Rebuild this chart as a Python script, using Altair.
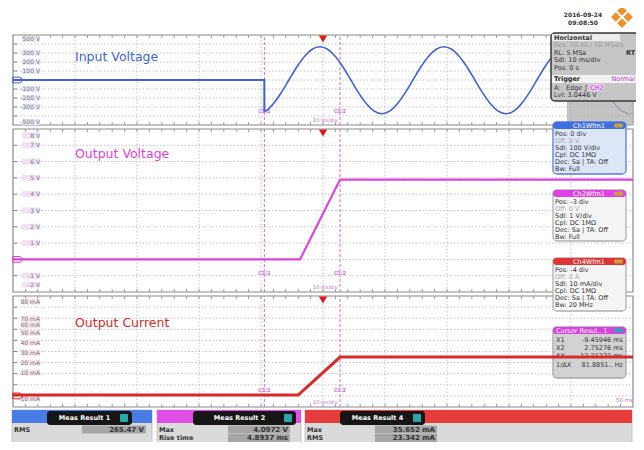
import altair as alt
import pandas as pd

# ---------------- values ----------------
# time axis: ms, trigger at 0 ms, 10 ms/div, screen spans -50 .. 50 ms
in_flat_t = [-50.0, -9.46, -9.46]
in_flat_v = [0, 0, -350]
in_sine_t = [-9.46, -9.25, -8.0, -6.75, -5.5, -4.25, -3.0, -1.75, -0.5, 0.75, 2.0, 3.25,
             4.5, 5.75, 7.0, 8.25, 9.5, 10.75, 12.0, 13.25, 14.5, 15.75, 17.0, 18.25,
             19.5, 20.75, 22.0, 23.25, 24.5, 25.75, 27.0, 28.25, 29.5, 30.75, 32.0,
             33.25, 34.5, 35.75, 37.0, 38.25, 39.5, 40.75, 42.0, 43.25, 44.5, 45.75,
             47.0, 48.25, 49.5, 50.0]
in_sine_v = [-350, -345, -263, -142, 0, 142, 262, 342, 370, 342, 262, 142,
             0, -143, -264, -346, -375, -346, -264, -143, 0, 142, 262, 342,
             370, 342, 262, 142, 0, -143, -264, -346, -375, -346, -264,
             -143, 0, 142, 262, 342, 370, 342, 262, 142, 0, -143,
             -264, -346, -375, -370]
out_v_t = [-50.0, -3.7, 2.75, 50.0]
out_v_v = [0.0, 0.0, 4.9, 4.9]
cur_t = [-50.0, -4.0, 2.75, 50.0]
cur_v = [0.8, 0.8, 35.0, 35.0]

cursor_t = [-9.46, 2.75]
cursor_names = ["C1.1", "C1.2"]

vin_labels = ["500 V", "300 V", "200 V", "100 V", "-100 V", "-200 V", "-300 V", "-500 V"]
vin_label_pos = [455, 300, 200, 100, -100, -200, -300, -465]
vout_labels = ["8 V", "7 V", "6 V", "5 V", "4 V", "3 V", "2 V", "1 V", "-1 V", "-2 V"]
vout_label_pos = [7.6, 7, 6, 5, 4, 3, 2, 1, -1, -1.55]
cur_labels = ["80 mA", "70 mA", "60 mA", "50 mA", "40 mA", "30 mA", "20 mA", "10 mA", "-10 mA"]
cur_label_pos = [85, 69.5, 64, 57, 48, 39, 30, 21, -2.5]

vgrid_t = [-40, -30, -20, -10, 0, 10, 20, 30, 40]
minor_t = [-48 + 2 * i for i in range(49)]
vin_grid = [-400, -300, -200, -100, 0, 100, 200, 300, 400]
vout_grid = [-1, 0, 1, 2, 3, 4, 5, 6, 7]
cur_grid = [0, 10, 20, 30, 40, 50, 60, 70, 80]

# ---------------- layout helpers ----------------
OX = OY = 8          # page margin
W, H = 628, 434
FONT = "DejaVu Sans"
GRID = "#c2c2c2"
BORDER = "#8a8a8a"
BLUE = "#3f62d8"
MAG = "#dc44dc"
RED = "#d82a2a"
CURS = "#cf6fcf"

xs = alt.Scale(domain=[-50, 50], range=[13 - OX, 633 - OX], nice=False, zero=False)


def yscale(lo, hi, top, bot):
    return alt.Scale(domain=[lo, hi], range=[bot - OY, top - OY], nice=False, zero=False)


def XD(v):
    return alt.XDatum(v, type="quantitative", scale=xs, axis=None)


def YD(v, ys):
    return alt.YDatum(v, type="quantitative", scale=ys, axis=None)


def XF(f):
    return alt.X(f, type="quantitative", scale=xs, axis=None)


def YF(f, ys):
    return alt.Y(f, type="quantitative", scale=ys, axis=None)


def R(x0, y0, x1, y1, fill, stroke=None, sw=1, r=0, op=1.0):
    props = dict(fill=fill, cornerRadius=r, opacity=op)
    if stroke is not None:
        props.update(stroke=stroke, strokeWidth=sw)
    return alt.Chart().mark_rect(**props).encode(
        x=alt.value(x0 - OX), x2=alt.value(x1 - OX),
        y=alt.value(y0 - OY), y2=alt.value(y1 - OY))


def T(s, x, y, size=6.5, color="#222222", align="left", weight="normal", font=FONT):
    return alt.Chart().mark_text(text=s, fontSize=size, color=color, align=align,
                                 baseline="middle", fontWeight=weight, font=font).encode(
        x=alt.value(x - OX), y=alt.value(y - OY))


def panel_back(lo, hi, ys, hgrid, labels, label_pos, gcolor, lab_bg, cur_dy):
    L = []
    # panel background + border
    L.append(alt.Chart().mark_rect(fill="white", stroke=BORDER, strokeWidth=1.2).encode(
        x=XD(-50), x2=alt.X2Datum(50), y=YD(lo, ys), y2=alt.Y2Datum(hi)))
    # grid
    L.append(alt.Chart(pd.DataFrame({"v": hgrid})).mark_rule(
        color=GRID, strokeDash=[1.5, 2], strokeWidth=1).encode(
        y=YF("v", ys), x=XD(-50), x2=alt.X2Datum(50)))
    L.append(alt.Chart(pd.DataFrame({"t": vgrid_t})).mark_rule(
        color=GRID, strokeDash=[1.5, 2], strokeWidth=1).encode(
        x=XF("t"), y=YD(lo, ys), y2=alt.Y2Datum(hi)))
    # minor ticks on top/bottom borders and left edge
    mdf = pd.DataFrame({"t": minor_t})
    L.append(alt.Chart(mdf).mark_rule(color="#9a9a9a", strokeWidth=1, y2Offset=3).encode(
        x=XF("t"), y=YD(hi, ys), y2=alt.Y2Datum(hi)))
    L.append(alt.Chart(mdf).mark_rule(color="#9a9a9a", strokeWidth=1, y2Offset=-3).encode(
        x=XF("t"), y=YD(lo, ys), y2=alt.Y2Datum(lo)))
    L.append(alt.Chart(pd.DataFrame({"v": hgrid})).mark_rule(
        color="#8a8a8a", strokeWidth=1, x2Offset=4).encode(
        y=YF("v", ys), x=XD(-50), x2=alt.X2Datum(-50)))
    # level labels with their light tag background
    ldf = pd.DataFrame({"s": labels, "p": label_pos})
    L.append(alt.Chart(ldf).mark_point(
        shape="M-1.5,-0.5H1.5V0.5H-1.5Z", size=150, filled=True, color=lab_bg,
        opacity=1).encode(x=alt.value(31 - OX), y=YF("p", ys)))
    L.append(alt.Chart(ldf).mark_text(
        align="right", baseline="middle", fontSize=6, color="#7a7a7a", font=FONT).encode(
        x=alt.value(40 - OX), y=YF("p", ys), text="s:N"))
    # ground marker
    L.append(alt.Chart().mark_point(
        shape="M-1,-0.55L0.4,-0.55L1,0L0.4,0.55L-1,0.55Z", size=110, filled=False,
        stroke=gcolor, strokeWidth=1, opacity=1).encode(
        x=alt.value(18 - OX), y=YD(0, ys)))
    # cursors
    cdf = pd.DataFrame({"t": cursor_t, "n": cursor_names})
    L.append(alt.Chart(cdf).mark_rule(color=CURS, strokeDash=[3, 2], strokeWidth=1).encode(
        x=XF("t"), y=YD(lo, ys), y2=alt.Y2Datum(hi)))
    L.append(alt.Chart(cdf).mark_point(
        shape="M-1.7,-0.75H1.7V0.75H-1.7Z", size=36, filled=True, color="#efdcf3",
        opacity=1, yOffset=-cur_dy).encode(x=XF("t"), y=YD(lo, ys)))
    L.append(alt.Chart(cdf).mark_text(
        fontSize=5.5, color="#c050c0", font=FONT, baseline="middle", dy=-cur_dy).encode(
        x=XF("t"), y=YD(lo, ys), text="n:N"))
    # time/div label and trigger marker
    L.append(alt.Chart().mark_text(text="10 ms/div", fontSize=5, color="#c070c0", font=FONT,
                                   align="left", baseline="middle", dx=-10, dy=-5).encode(
        x=XD(0), y=YD(lo, ys)))
    L.append(alt.Chart().mark_point(shape="triangle-down", filled=True, color="#e01818",
                                    size=70, opacity=1, yOffset=4).encode(
        x=XD(0), y=YD(hi, ys)))
    return L


# ---------------- panels ----------------
ys1 = yscale(-500, 500, 35, 125)
ys2 = yscale(-2, 8, 129, 292)
ys3 = yscale(-10, 90, 296, 407)

p1 = panel_back(-500, 500, ys1, vin_grid, vin_labels, vin_label_pos, BLUE, "#e6ebf6", 14)
p1.append(alt.Chart(pd.DataFrame({"t": in_flat_t, "v": in_flat_v})).mark_line(
    color=BLUE, strokeWidth=2).encode(x=XF("t"), y=YF("v", ys1), order=alt.Order("i:Q"))
    .transform_window(i="row_number()"))
p1.append(alt.Chart(pd.DataFrame({"t": in_sine_t, "v": in_sine_v})).mark_line(
    color=BLUE, strokeWidth=1.6, interpolate="monotone").encode(x=XF("t"), y=YF("v", ys1)))
panel1 = alt.layer(*p1)

p2 = panel_back(-2, 8, ys2, vout_grid, vout_labels, vout_label_pos, MAG, "#f1e2f3", 19)
p2.append(alt.Chart(pd.DataFrame({"t": out_v_t, "v": out_v_v})).mark_line(
    color=MAG, strokeWidth=2.2).encode(x=XF("t"), y=YF("v", ys2)))
panel2 = alt.layer(*p2)

p3 = panel_back(-10, 90, ys3, cur_grid, cur_labels, cur_label_pos, RED, "#f5e4e4", 17)
p3.append(alt.Chart().mark_text(text="50 ms", fontSize=5.5, color="#c070c0", font=FONT,
                                align="right", baseline="middle", dy=-7).encode(
    x=XD(50), y=YD(-10, ys3)))
panel3 = alt.layer(*p3)

panel3_trace = alt.Chart(pd.DataFrame({"t": cur_t, "v": cur_v})).mark_line(
    color=RED, strokeWidth=3).encode(x=XF("t"), y=YF("v", ys3))

# ---------------- overlays (instrument info boxes) ----------------
ov = []
ov.append(R(567, 100, 633, 125, "#b4b4b4", op=0.8))
# Horizontal / Trigger box
ov.append(R(551, 33, 641, 101, "#c6c6c6", stroke="#3a3a3a", sw=1.5, r=4))
ov.append(R(552, 34, 620, 41, "#ececec"))
ov.append(T("Horizontal", 554, 37.5, 6.5, "#333333", weight="bold"))
ov.append(T("Res: 20 ns / 50 MSa/s", 554, 45, 6.5, "#9a9a9a"))
ov.append(T("RL:  5 MSa", 554, 52.5, 6.5, "#333333"))
ov.append(T("RT", 626, 52.5, 6.5, "#333333", weight="bold"))
ov.append(T("Sdl: 10 ms/div", 554, 60, 6.5, "#333333"))
ov.append(T("Pos: 0 s", 554, 67.5, 6.5, "#333333"))
ov.append(R(552, 75, 640, 83, "#f2f2f2"))
ov.append(T("Trigger", 554, 79, 6.5, "#222222", weight="bold"))
ov.append(T("Normal", 635, 79, 6.5, "#c040c0", align="right"))
ov.append(T("A:", 554, 87.5, 6.5, "#333333"))
ov.append(T("Edge", 566, 87.5, 6.5, "#333333"))
ov.append(T("∫", 584, 87.5, 7, "#333333"))
ov.append(R(589, 84, 604, 91, "#e8d0ee"))
ov.append(T("CH2", 590, 87.5, 6.5, "#c040c0"))
ov.append(T("Lvl: 3.0446 V", 554, 95, 6.5, "#333333"))


def chbox(top, bot, hdr, body, border, title, rows, faded=1, icon="#c8a040"):
    L = [R(553, top, 626, bot, body, stroke=border, sw=1.3, r=4),
         R(553, top, 626, top + 7, hdr, r=3),
         T(title, 589, top + 3.5, 6.5, "white", align="center"),
         R(614, top + 1.5, 623, top + 5.5, icon, r=1.5)]
    for i, s in enumerate(rows):
        L.append(T(s, 555, top + 11.5 + 7 * i, 6.5, "#aaaaaa" if i == faded else "#333333"))
    return L


ov += chbox(122, 174, "#4070e0", "#dde6f7", "#5a7ee0", "Ch1Wfm1",
            ["Pos: 0 div", "Off: 0 V", "Sdl: 100 V/div", "Cpl: DC 1MΩ",
             "Dec: Sa | TA: Off", "Bw: Full"])
ov += chbox(190, 241, "#e040e8", "#f5f5f5", "#b0b0b0", "Ch2Wfm1",
            ["Pos: -3 div", "Off: 0 V", "Sdl: 1 V/div", "Cpl: DC 1MΩ",
             "Dec: Sa | TA: Off", "Bw: Full"])
ov += chbox(258, 311, "#e03434", "#f5f5f5", "#b0b0b0", "Ch4Wfm1",
            ["Pos: -4 div", "Off: 0 A", "Sdl: 10 mA/div", "Cpl: DC 1MΩ",
             "Dec: Sa | TA: Off", "Bw: 20 MHz"])
# cursor result box
ov.append(R(553, 327, 626, 378, "#d2d2d2", stroke="#a8a8a8", sw=1.3, r=4))
ov.append(R(553, 327, 626, 334, "#d840e0", r=3))
ov.append(T("Cursor Resul.. 1", 556, 330.5, 6.5, "white"))
ov.append(R(614, 328.5, 623, 332.5, "#2aa6b8", r=1.5))
for i, (a, b) in enumerate([("X1", "-9.45946 ms"), ("X2", "2.75276 ms"),
                            ("ΔX", "12.21222 ms"), ("1/ΔX", "81.8851.. Hz")]):
    ov.append(T(a, 556, 340 + 8.2 * i, 6.5, "#333333"))
    ov.append(T(b, 623, 340 + 8.2 * i, 6.5, "#333333", align="right"))

# titles on the traces
tl = [T("Input Voltage", 75, 57, 12.5, BLUE),
      T("Output Voltage", 75, 154, 12.5, MAG),
      T("Output Current", 75, 323, 12.5, RED)]

# measurement result boxes (bottom)
mb = []


def meas(x0, x1, hdr, tab0, tab1, title, rows):
    L = [R(x0, 410, x1, 446, "#dadada", stroke="#bdbdbd", sw=0.8),
         R(x0, 410, x1, 423, hdr),
         R(tab0, 411, tab1, 425, "#161616", r=3),
         T(title, (tab0 + tab1) / 2 - 5, 418, 6.5, "white", align="center", weight="bold"),
         R(tab1 - 12, 414, tab1 - 4, 422, "#2aa6a6", r=1)]
    for i, (lab, val, f0, f1) in enumerate(rows):
        y = 429.5 + 8.5 * i
        L.append(R(f0, y - 4, f1, y + 4, "#a6a6a6"))
        L.append(T(lab, x0 + 2, y, 6.5, "#333333", weight="bold"))
        L.append(T(val, f1 - 2, y, 7, "#333333", align="right", weight="bold"))
    return L


mb += meas(12, 152, "#4a7ce6", 47, 132, "Meas Result 1", [("RMS", "265.47 V", 82, 146)])
mb += meas(157, 301, "#e050e6", 193, 296, "Meas Result 2",
           [("Max", "4.0972 V", 228, 290), ("Rise time", "4.8937 ms", 228, 290)])
mb += meas(305, 632, "#e63c3c", 340, 425, "Meas Result 4",
           [("Max", "35.652 mA", 375, 437), ("RMS", "23.342 mA", 375, 437)])

# date and logo
mb.append(T("2016-09-24", 583, 15, 6, "#333333", align="center", weight="bold"))
mb.append(T("09:08:50", 583, 23, 6, "#333333", align="center", weight="bold"))
mb.append(alt.Chart().mark_point(shape="diamond", filled=True, color="#f0902a",
                                 size=480, opacity=1).encode(
    x=alt.value(622 - OX), y=alt.value(17 - OY)))
mb.append(alt.Chart().mark_rule(color="white", strokeWidth=2).encode(
    x=alt.value(616.5 - OX), x2=alt.value(627.5 - OX),
    y=alt.value(11.5 - OY), y2=alt.value(22.5 - OY)))
mb.append(alt.Chart().mark_rule(color="white", strokeWidth=2).encode(
    x=alt.value(627.5 - OX), x2=alt.value(616.5 - OX),
    y=alt.value(11.5 - OY), y2=alt.value(22.5 - OY)))

dummy = pd.DataFrame({"d": [0]})
chart = alt.layer(panel1, panel2, panel3, *ov, panel3_trace, *tl, *mb, data=dummy).resolve_scale(
    y="independent"
).properties(
    width=W, height=H, padding=0, background="white",
    autosize=alt.AutoSizeParams(type="none")
).configure_view(stroke="transparent")

chart.save("out.html", embed_options={"renderer": "svg", "actions": False})
